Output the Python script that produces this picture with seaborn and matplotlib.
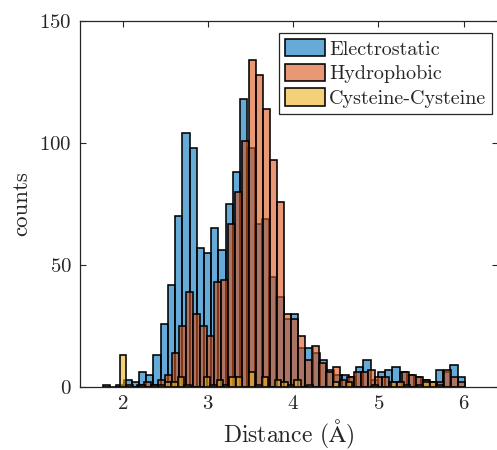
import numpy as np
import pandas as pd
import matplotlib
matplotlib.use("Agg")
import matplotlib.pyplot as plt
import seaborn as sns

# Histogram counts per bin for each interaction type
electrostatic_counts = [1, 0, 0, 3, 2, 6, 5, 13, 26, 42,
                        70, 104, 98, 57, 55, 65, 56, 75, 88, 118,
                        98, 67, 69, 45, 37, 28, 30, 16, 16, 14,
                        11, 7, 5, 5, 4, 8, 11, 3, 6, 7,
                        8, 6, 5, 4, 3, 2, 7, 6, 9, 4]
hydrophobic_counts = [1, 0, 0, 1, 2, 1, 3, 5, 14, 25,
                      39, 30, 25, 21, 43, 44, 67, 80, 101, 134,
                      128, 114, 93, 76, 30, 28, 21, 11, 17, 10,
                      6, 8, 3, 4, 6, 6, 7, 4, 4, 2,
                      2, 6, 5, 4, 3, 2, 2, 7, 4, 2]
cysteine_counts = [13, 1, 0, 1, 0, 1, 1, 2, 2, 4,
                   1, 0, 0, 4, 1, 3, 1, 4, 4, 0,
                   6, 1, 4, 0, 3, 2, 1, 3, 0, 1,
                   0, 0, 0, 2, 0, 2, 0, 0, 0, 1,
                   0, 0, 2, 2, 1, 0, 1, 2, 2, 1]

# Bin ranges (Å) of each histogram: (first edge, last edge)
electrostatic_range = (1.765, 6.015)
hydrophobic_range = (1.926, 6.021)
cysteine_range = (1.965, 5.755)

series_names = ["Electrostatic", "Hydrophobic", "Cysteine-Cysteine"]
x_ticks = [2, 3, 4, 5, 6]
y_ticks = [0, 50, 100, 150]

colors = [(0.0, 0.447, 0.741), (0.85, 0.325, 0.098), (0.929, 0.694, 0.125)]

sns.set_style("ticks")
plt.rcParams["font.family"] = ["cmr10"]
plt.rcParams["mathtext.fontset"] = "cm"
plt.rcParams["axes.formatter.use_mathtext"] = True
plt.rcParams["axes.unicode_minus"] = False

fig = plt.figure(figsize=(4.97, 4.5), dpi=100)
ax = fig.add_axes([80 / 497, 1 - 387 / 450, 417.6 / 497, 366 / 450])

for name, counts, rng, col in zip(
        series_names,
        [electrostatic_counts, hydrophobic_counts, cysteine_counts],
        [electrostatic_range, hydrophobic_range, cysteine_range],
        colors):
    edges = np.linspace(rng[0], rng[1], len(counts) + 1)
    centers = (edges[:-1] + edges[1:]) / 2
    df = pd.DataFrame({"distance": centers, "count": counts})
    sns.histplot(data=df, x="distance", weights="count", bins=edges.tolist(),
                 color=col, alpha=0.6, edgecolor="black", linewidth=1.15,
                 ax=ax, label=name)

ax.set_xlim(1.5, 6.4)
ax.set_ylim(0, 150)
ax.set_xticks(x_ticks)
ax.set_yticks(y_ticks)
ax.set_xlabel(r"Distance ($\mathrm{\AA}$)", fontsize=17, color="#262626", labelpad=3)
ax.set_ylabel("counts", fontsize=16.5, color="#262626", labelpad=6)

for side in ["top", "right", "bottom", "left"]:
    ax.spines[side].set_visible(True)
    ax.spines[side].set_color("#262626")
    ax.spines[side].set_linewidth(0.9)
ax.tick_params(direction="in", length=4, width=0.8, top=True, right=True,
               labelsize=15, colors="#262626", pad=6)

leg = ax.legend(loc="upper right", bbox_to_anchor=(0.987, 0.967),
                borderaxespad=0, fontsize=14.5, frameon=True, fancybox=False,
                handlelength=2.0, handleheight=0.95, handletextpad=0.2,
                labelspacing=0.25, borderpad=0.3)
leg.get_frame().set_edgecolor("#262626")
leg.get_frame().set_linewidth(0.9)
leg.get_frame().set_alpha(1)

fig.savefig("out.png", dpi=100)
